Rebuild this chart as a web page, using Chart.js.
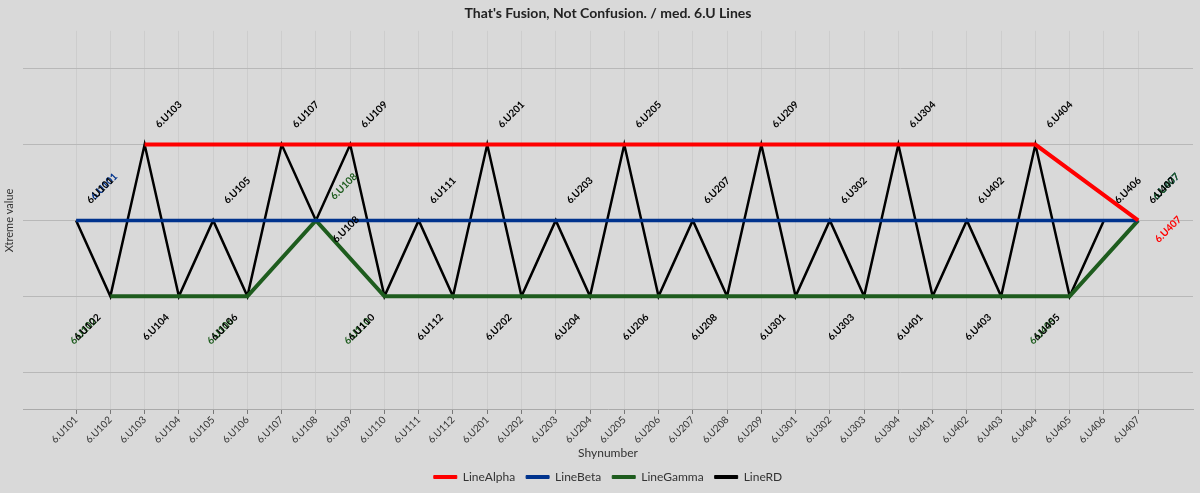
<!DOCTYPE html>
<html>
<head>
<meta charset="utf-8">
<script src="https://cdn.jsdelivr.net/npm/chart.js@4.4.1/dist/chart.umd.min.js"></script>
<style>
  html, body { margin: 0; padding: 0; background: #d9d9d9; }
  #wrap { width: 1200px; height: 493px; }
</style>
</head>
<body>
<div id="wrap"><canvas id="myChart"></canvas></div>
<script>
const categories = [
    '6.U101', '6.U102', '6.U103', '6.U104', '6.U105', '6.U106', '6.U107', '6.U108',
    '6.U109', '6.U110', '6.U111', '6.U112',
    '6.U201', '6.U202', '6.U203', '6.U204', '6.U205', '6.U206', '6.U207', '6.U208', '6.U209',
    '6.U301', '6.U302', '6.U303', '6.U304',
    '6.U401', '6.U402', '6.U403', '6.U404', '6.U405', '6.U406', '6.U407'
];

// null = no point for that series (line is drawn across the gap)
const lineAlpha = [null, null, 3, null, null, null, null, null, null, null, null, null,
    null, null, null, null, null, null, null, null, null,
    null, null, null, null,
    null, null, null, 3, null, null, 2];
const lineBeta = [2, null, null, null, null, null, null, null, null, null, null, null,
    null, null, null, null, null, null, null, null, null,
    null, null, null, null,
    null, null, null, null, null, null, 2];
const lineGamma = [null, 1, null, null, null, 1, null, 2, null, 1, null, null,
    null, null, null, null, null, null, null, null, null,
    null, null, null, null,
    null, null, null, null, 1, null, 2];
const lineRD = [2, 1, 3, 1, 2, 1, 3, 2, 3, 1, 2, 1,
    3, 1, 2, 1, 3, 1, 2, 1, 3,
    1, 2, 1, 3,
    1, 2, 1, 3, 1, 2, 2];

const yTicks = [0, 1, 2, 3, 4];

const toPoints = (values) => values.map((v, i) => ({ x: i, y: v }));

const FONT = "Lato, 'Noto Sans', sans-serif";

// labelShift: extra distance of the label from its point
// labelRight: points whose label sits to the right instead of above/below
// labelSkip: points whose label is not drawn (covered by the black ones)
function makeSet(label, values, color, width, shift, rightLabels, skipLabels) {
    return {
        label: label,
        data: toPoints(values),
        borderColor: color,
        backgroundColor: color,
        borderWidth: width,
        pointRadius: 0,
        pointHoverRadius: 0,
        tension: 0,
        spanGaps: true,
        labelShift: shift,
        labelRight: rightLabels,
        labelSkip: skipLabels
    };
}

const data = {
    datasets: [
        makeSet('LineAlpha', lineAlpha, 'rgb(255,0,0)', 4, 0, ['6.U407'], ['6.U103', '6.U404']),
        makeSet('LineBeta', lineBeta, 'rgb(0,51,141)', 3.5, 4, [], []),
        makeSet('LineGamma', lineGamma, 'rgb(30,92,30)', 4, 4, [], []),
        makeSet('LineRD', lineRD, '#000000', 2.5, 0, ['6.U108'], [])
    ]
};

// point labels rotated -45deg, drawn with black series last
const pointLabels = {
    id: 'pointLabels',
    afterDatasetsDraw(chart) {
        const ctx = chart.ctx;
        ctx.save();
        ctx.font = 'bold 10px ' + FONT;
        ctx.textAlign = 'center';
        ctx.textBaseline = 'middle';
        chart.data.datasets.forEach((ds, di) => {
            const meta = chart.getDatasetMeta(di);
            ds.data.forEach((pt, i) => {
                const name = categories[i];
                if (pt.y === null || ds.labelSkip.includes(name)) return;
                const el = meta.data[i];
                const s = ds.labelShift;
                let dx, dy;
                if (ds.labelRight.includes(name)) {
                    dx = 30; dy = 9;
                } else if (pt.y <= 1) {
                    dx = -23 - s; dy = 31 + s;
                } else {
                    dx = 24 + s; dy = -30 - s;
                }
                ctx.save();
                ctx.translate(el.x + dx, el.y + dy);
                ctx.rotate(-Math.PI / 4);
                ctx.fillStyle = ds.borderColor;
                ctx.fillText(name, 0, 0);
                ctx.restore();
            });
        });
        ctx.restore();
    }
};

const bgPlugin = {
    id: 'bg',
    beforeDraw(chart) {
        const ctx = chart.ctx;
        ctx.save();
        ctx.fillStyle = '#d9d9d9';
        ctx.fillRect(0, 0, chart.width, chart.height);
        ctx.restore();
    }
};

const config = {
    type: 'line',
    data: data,
    options: {
        responsive: true,
        maintainAspectRatio: false,
        animation: false,
        layout: { padding: { left: 0, right: 7, top: 0, bottom: 0 } },
        scales: {
            x: {
                type: 'linear',
                min: -1.55,
                max: 32.6,
                afterBuildTicks: (scale) => {
                    scale.ticks = categories.map((c, i) => ({ value: i }));
                },
                ticks: {
                    callback: (v) => categories[v],
                    minRotation: 45,
                    maxRotation: 45,
                    autoSkip: false,
                    color: '#333',
                    font: { family: FONT, size: 10 },
                    padding: 0
                },
                grid: {
                    color: 'rgba(0,0,0,0.05)',
                    tickColor: '#777',
                    tickLength: 4
                },
                border: { display: true, color: '#aaaaaa', width: 1 },
                title: {
                    display: true,
                    text: 'Shynumber',
                    color: '#333',
                    font: { family: FONT, size: 12 },
                    padding: 0
                }
            },
            y: {
                min: -0.5,
                max: 4.5,
                afterBuildTicks: (scale) => {
                    scale.ticks = yTicks.map((v) => ({ value: v }));
                },
                afterFit: (scale) => { scale.width = 23; },
                ticks: { display: false },
                grid: { color: '#b8b8b8', drawTicks: false },
                border: { display: false },
                title: {
                    display: true,
                    text: 'Xtreme value',
                    color: '#333',
                    font: { family: FONT, size: 11 },
                    padding: { top: 3, bottom: 0 }
                }
            }
        },
        plugins: {
            title: {
                display: true,
                fullSize: false,
                text: "That's Fusion, Not Confusion. / med. 6.U Lines",
                color: '#222',
                font: { family: FONT, size: 14, weight: 'bold' },
                padding: { top: 5, bottom: 9 }
            },
            legend: {
                position: 'bottom',
                fullSize: false,
                labels: {
                    boxWidth: 23,
                    boxHeight: 3,
                    padding: 11,
                    color: '#333',
                    font: { family: FONT, size: 12 },
                    generateLabels: (chart) => {
                        const items = Chart.defaults.plugins.legend.labels.generateLabels(chart);
                        items.forEach((it) => { it.lineWidth = 1; });
                        return items;
                    }
                }
            },
            tooltip: { enabled: false }
        }
    },
    plugins: [bgPlugin, pointLabels]
};

document.addEventListener('DOMContentLoaded', (event) => {
    const myChart = new Chart(
        document.getElementById('myChart'),
        config
    );
});
</script>
</body>
</html>
